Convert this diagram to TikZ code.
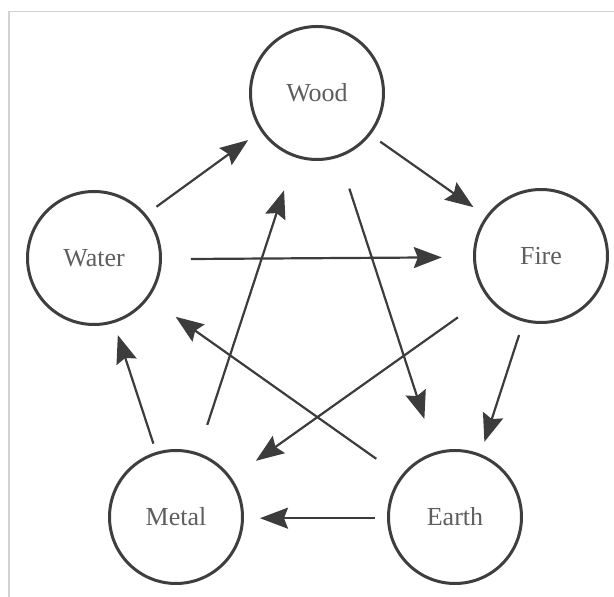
\documentclass[tikz,border=0pt]{standalone}
\usepackage{fontspec}
\setmainfont{Liberation Serif}
\usetikzlibrary{arrows.meta}
\definecolor{ringcol}{HTML}{3E3E3E}
\definecolor{arrcol}{HTML}{3C3C3C}
\definecolor{txtcol}{HTML}{5E5E5E}
\definecolor{framecol}{HTML}{D2D2D2}
\tikzset{
  element/.style={circle, draw=ringcol, line width=3pt, minimum size=133pt, inner sep=0pt,
    text=txtcol, font=\fontsize{26}{30}\selectfont},
  arr/.style={draw=arrcol, line width=2.2pt,
    -{Stealth[length=28pt, width=21pt, inset=4pt]}},
}
\begin{document}
\begin{tikzpicture}[x=1pt, y=1pt]
\useasboundingbox (0,0) rectangle (614,597);
\draw[framecol, line width=1.8pt] (9,0) -- (9,585.5) -- (614,585.5);

\node[element] (wood)  at (317,504) {Wood};
\node[element] (water) at (94,339)  {Water};
\node[element] (fire)  at (541,341) {Fire};
\node[element] (metal) at (176,80)  {Metal};
\node[element] (earth) at (455,80)  {Earth};

% generating cycle
\draw[arr, shorten <=12.8pt, shorten >=15.4pt] (water.40.3) -- (wood.214.5);
\draw[arr, shorten <=11.8pt, shorten >=15.4pt] (wood.-38.7) -- (fire.144.5);
\draw[arr, shorten <=14pt, shorten >=12.7pt] (fire.255.2) -- (earth.68.3);
\draw[arr, shorten <=12.4pt, shorten >=16pt] (earth.181.4) -- (metal.-1.3);
\draw[arr, shorten <=8.8pt, shorten >=12.7pt] (metal.107.8) -- (water.-73.2);

% controlling cycle
\draw[arr, shorten <=28.8pt, shorten >=31.2pt] (water.-1.2) -- (fire.181.3);
\draw[arr, shorten <=32.9pt, shorten >=34.7pt] (wood.-71.4) -- (earth.107.4);
\draw[arr, shorten <=35.3pt, shorten >=29.7pt] (fire.217.8) -- (metal.35);
\draw[arr, shorten <=29.3pt, shorten >=34.7pt] (metal.71.3) -- (wood.251.6);
\draw[arr, shorten <=29.9pt, shorten >=32.6pt] (earth.143.7) -- (water.-36.2);
\end{tikzpicture}
\end{document}
